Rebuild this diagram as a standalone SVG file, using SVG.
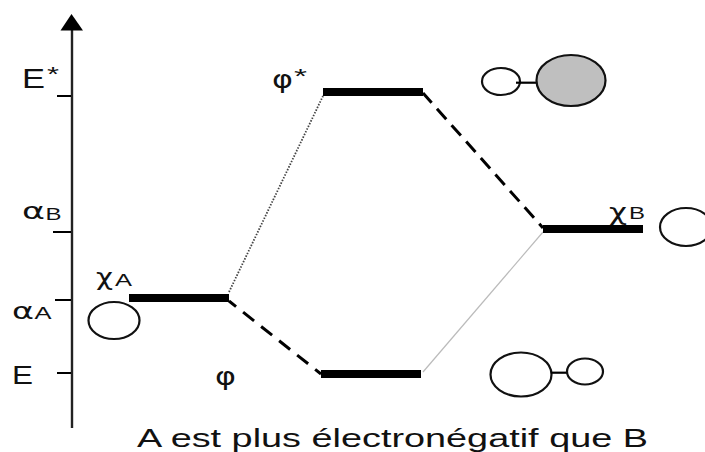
<svg xmlns="http://www.w3.org/2000/svg" width="705" height="452" viewBox="0 0 705 452">
<style>
.lvl{stroke:#000;stroke-width:8;fill:none}
.tick{stroke:#000;stroke-width:2;fill:none}
.orb{fill:#fff;stroke:#111;stroke-width:2.2}
.bond{stroke:#000;stroke-width:2.2}
text{font-family:"Liberation Sans",Arial,sans-serif;fill:#111}
.g{font-family:"DejaVu Sans",sans-serif}
</style>
<rect width="705" height="452" fill="#fff"/>
<g id="axis">
<line x1="72" y1="28" x2="72" y2="428" stroke="#222" stroke-width="2.4"/>
<polygon points="71.5,14 60.5,30.5 83,30.5" fill="#000"/>
<line class="tick" x1="57" y1="96" x2="71" y2="96"/>
<line class="tick" x1="53" y1="232" x2="71" y2="232"/>
<line class="tick" x1="55" y1="300" x2="71" y2="300"/>
<line class="tick" x1="57" y1="373" x2="71" y2="373"/>
<text x="22" y="88" font-size="27" textLength="23" lengthAdjust="spacingAndGlyphs">E</text>
<text x="47" y="81" font-size="20" textLength="12" lengthAdjust="spacingAndGlyphs">*</text>
<text x="22" y="219" class="g" font-size="23" textLength="23" lengthAdjust="spacingAndGlyphs">α</text>
<text x="45.5" y="220" font-size="17" textLength="16" lengthAdjust="spacingAndGlyphs">B</text>
<text x="12" y="319" class="g" font-size="23" textLength="22" lengthAdjust="spacingAndGlyphs">α</text>
<text x="34.5" y="319" font-size="17" textLength="17" lengthAdjust="spacingAndGlyphs">A</text>
<text x="12" y="384" font-size="26" textLength="21" lengthAdjust="spacingAndGlyphs">E</text>
</g>
<g id="connectors">
<line x1="229" y1="292" x2="323" y2="96" stroke="#444" stroke-width="1.8" stroke-dasharray="1.5 1.5"/>
<line x1="229" y1="301" x2="321" y2="374" stroke="#000" stroke-width="3" stroke-dasharray="14 9" stroke-dashoffset="5"/>
<line x1="423" y1="93" x2="543" y2="228" stroke="#000" stroke-width="3" stroke-dasharray="14 8" stroke-dashoffset="1"/>
<line x1="423" y1="372" x2="543" y2="232" stroke="#bbb" stroke-width="1.2"/>
</g>
<g id="level-chiA">
<line class="lvl" x1="129" y1="298" x2="229" y2="298"/>
<text x="96" y="285" class="g" font-size="23" textLength="17" lengthAdjust="spacingAndGlyphs">χ</text>
<text x="115" y="286" font-size="17" textLength="17" lengthAdjust="spacingAndGlyphs">A</text>
<ellipse class="orb" cx="114" cy="320.5" rx="25.5" ry="18.5"/>
</g>
<g id="level-phi-star">
<line class="lvl" x1="323" y1="92" x2="423" y2="92"/>
<text x="272" y="88" class="g" font-size="24" textLength="21" lengthAdjust="spacingAndGlyphs">φ</text>
<text x="294" y="83" font-size="20" textLength="13" lengthAdjust="spacingAndGlyphs">*</text>
<ellipse class="orb" cx="501" cy="81.5" rx="19" ry="13.5"/>
<line class="bond" x1="516" y1="82.7" x2="537" y2="82.7"/>
<ellipse class="orb" cx="571" cy="80.5" rx="34.5" ry="25.5" style="fill:#bfbfbf"/>
</g>
<g id="level-chiB">
<line class="lvl" x1="543" y1="229" x2="643" y2="229"/>
<text x="609" y="220" class="g" font-size="23" textLength="18" lengthAdjust="spacingAndGlyphs">χ</text>
<text x="629" y="219" font-size="17" textLength="16" lengthAdjust="spacingAndGlyphs">B</text>
<ellipse class="orb" cx="686" cy="227" rx="26" ry="19"/>
</g>
<g id="level-phi">
<line class="lvl" x1="321" y1="374" x2="421" y2="374"/>
<text x="215" y="385" class="g" font-size="24" textLength="21" lengthAdjust="spacingAndGlyphs">φ</text>
<ellipse class="orb" cx="521" cy="374.5" rx="30.5" ry="22"/>
<line class="bond" x1="551" y1="372.7" x2="568" y2="372.7"/>
<ellipse class="orb" cx="585" cy="371.5" rx="18" ry="13"/>
</g>
<text id="caption" x="137" y="446.5" font-size="25" textLength="511" lengthAdjust="spacingAndGlyphs">A est plus électronégatif que B</text>
</svg>
